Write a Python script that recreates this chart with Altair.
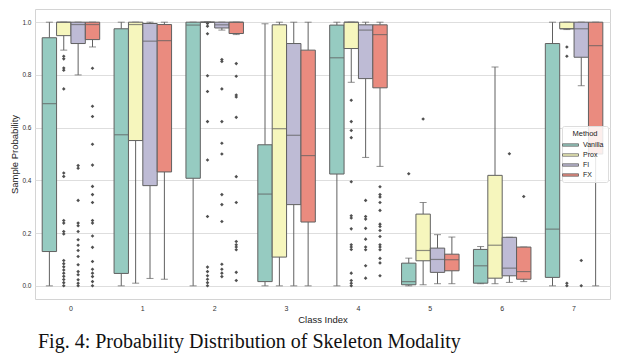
import altair as alt
import pandas as pd

CLASSES = ["0", "1", "2", "3", "4", "5", "6", "7"]
METHODS = ["Vanilla", "Prox", "FI", "FX"]
COLORS = ["#96cbc1", "#f6f6bd", "#bebbd5", "#ea8b7f"]

# box statistics per class: [whisker_low, q1, median, q3, whisker_high]
VANILLA = [
    [0.0, 0.130, 0.691, 0.941, 1.0],
    [0.0, 0.047, 0.573, 0.975, 1.0],
    [0.0, 0.408, 0.989, 1.0, 1.0],
    [0.0, 0.016, 0.348, 0.535, 0.994],
    [0.0, 0.424, 0.865, 0.989, 1.0],
    [0.0, 0.004, 0.016, 0.086, 0.105],
    [0.008, 0.010, 0.076, 0.138, 0.149],
    [0.0, 0.032, 0.215, 0.919, 1.0],
]
PROX = [
    [0.894, 0.949, 1.0, 1.0, 1.0],
    [0.010, 0.551, 0.991, 1.0, 1.0],
    [1.0, 1.0, 1.0, 1.0, 1.0],
    [0.0, 0.109, 0.596, 0.990, 1.0],
    [0.772, 0.900, 1.0, 1.0, 1.0],
    [0.004, 0.095, 0.134, 0.272, 0.316],
    [0.008, 0.029, 0.154, 0.419, 0.830],
    [0.972, 0.975, 0.975, 1.0, 1.0],
]
FI = [
    [0.800, 0.919, 0.991, 1.0, 1.0],
    [0.028, 0.380, 0.928, 0.995, 1.0],
    [0.970, 0.978, 0.990, 1.0, 1.0],
    [0.0, 0.308, 0.571, 0.919, 1.0],
    [0.487, 0.786, 0.970, 0.990, 1.0],
    [0.008, 0.051, 0.100, 0.143, 0.194],
    [0.013, 0.038, 0.067, 0.184, 0.184],
    [0.759, 0.867, 0.975, 1.0, 1.0],
]
FX = [
    [0.906, 0.934, 0.991, 1.0, 1.0],
    [0.025, 0.432, 0.930, 0.991, 1.0],
    [0.953, 0.957, 1.0, 1.0, 1.0],
    [0.0, 0.242, 0.494, 0.894, 1.0],
    [0.453, 0.751, 0.953, 0.990, 1.0],
    [0.008, 0.057, 0.099, 0.120, 0.185],
    [0.016, 0.025, 0.054, 0.147, 0.147],
    [0.0, 0.500, 0.911, 1.0, 1.0],
]

# outliers: {class: [values]}
VANILLA_OUT = {"5": [0.425]}
PROX_OUT = {
    "0": [0.871, 0.861, 0.826, 0.818, 0.747, 0.428, 0.415, 0.248, 0.238, 0.206, 0.197,
          0.096, 0.084, 0.072, 0.060, 0.048, 0.036, 0.024, 0.012, 0.0],
    "2": [0.995, 0.985, 0.956, 0.797, 0.737, 0.623, 0.477, 0.263, 0.071, 0.054, 0.038,
          0.025, 0.012, 0.0],
    "4": [0.704, 0.623, 0.589, 0.562, 0.395, 0.266, 0.257, 0.216, 0.156, 0.147, 0.138,
          0.048, 0.020, 0.010, 0.0],
    "5": [0.633],
    "7": [0.906, 0.871, 0.010, 0.0],
}
FI_OUT = {
    "0": [0.456, 0.446, 0.324, 0.238, 0.228, 0.206, 0.175, 0.154, 0.134, 0.111, 0.080,
          0.054, 0.042, 0.023, 0.010, 0.0],
    "2": [0.858, 0.851, 0.747, 0.623, 0.541, 0.500, 0.346, 0.308, 0.244, 0.082, 0.063,
          0.048, 0.035],
    "4": [0.324, 0.263, 0.253, 0.218, 0.177, 0.147, 0.137, 0.076, 0.029],
    "6": [0.501],
    "7": [0.096, 0.0],
}
FX_OUT = {
    "0": [0.825, 0.681, 0.642, 0.537, 0.458, 0.377, 0.346, 0.316, 0.248, 0.238, 0.189,
          0.146, 0.092, 0.063, 0.048, 0.035, 0.016, 0.0],
    "2": [0.843, 0.795, 0.724, 0.716, 0.639, 0.414, 0.316, 0.168, 0.156, 0.147, 0.137,
          0.051, 0.020],
    "4": [0.376, 0.346, 0.337, 0.316, 0.286, 0.234, 0.225, 0.210, 0.187, 0.156, 0.147,
          0.137, 0.104, 0.087, 0.038],
    "6": [0.339],
}

Y_TICKS = [0.0, 0.2, 0.4, 0.6, 0.8, 1.0]
CAPTION = "Fig. 4: Probability Distribution of Skeleton Modality"

stats_rows = []
for m, tbl in zip(METHODS, [VANILLA, PROX, FI, FX]):
    for c, s in zip(CLASSES, tbl):
        stats_rows.append(dict(cls=c, method=m, low=s[0], q1=s[1], med=s[2], q3=s[3], high=s[4]))
stats = pd.DataFrame(stats_rows)

out_rows = []
for m, d in zip(METHODS, [VANILLA_OUT, PROX_OUT, FI_OUT, FX_OUT]):
    for c, vals in d.items():
        for v in vals:
            out_rows.append(dict(cls=c, method=m, value=v))
outs = pd.DataFrame(out_rows)

GRAY = "#606060"
x_enc = alt.X("cls:N", scale=alt.Scale(domain=CLASSES, paddingInner=0, paddingOuter=0),
              axis=alt.Axis(title="Class Index", labelAngle=0))
xo_enc = alt.XOffset("method:N", scale=alt.Scale(domain=METHODS, paddingInner=0, paddingOuter=0.5))
y_scale = alt.Scale(domain=[-0.05, 1.05], nice=False, zero=False)

base = alt.Chart(stats).encode(x=x_enc, xOffset=xo_enc)

lower = base.mark_rule(color=GRAY, strokeWidth=1).encode(
    y=alt.Y("low:Q", scale=y_scale,
            axis=alt.Axis(title="Sample Probability", values=Y_TICKS, format=".1f")),
    y2="q1:Q")
upper = base.mark_rule(color=GRAY, strokeWidth=1).encode(y=alt.Y("q3:Q", scale=y_scale), y2="high:Q")
cap_lo = base.mark_tick(color=GRAY, size=7, thickness=1, orient="horizontal").encode(
    y=alt.Y("low:Q", scale=y_scale))
cap_hi = base.mark_tick(color=GRAY, size=7, thickness=1, orient="horizontal").encode(
    y=alt.Y("high:Q", scale=y_scale))
boxes = base.mark_bar(stroke=GRAY, strokeWidth=1).encode(
    y=alt.Y("q1:Q", scale=y_scale), y2="q3:Q",
    color=alt.Color("method:N", scale=alt.Scale(domain=METHODS, range=COLORS),
                    legend=alt.Legend(title="Method", orient="none", legendX=527, legendY=117,
                                      symbolType="M-2,-0.3L2,-0.3L2,0.3L-2,0.3Z",
                                      symbolSize=64, symbolStrokeColor=GRAY,
                                      symbolStrokeWidth=0.8, symbolOpacity=1,
                                      labelFontSize=7, titleFontSize=7.5,
                                      titleFontWeight="normal", labelOffset=8,
                                      rowPadding=2, padding=4, titleAnchor="middle",
                                      fillColor="rgba(255,255,255,0.85)",
                                      strokeColor="#dddddd", cornerRadius=2,
                                      labelColor="#222", titleColor="#222",
                                      titlePadding=3)))
median = base.mark_tick(color=GRAY, size=14, thickness=1.2, orient="horizontal").encode(
    y=alt.Y("med:Q", scale=y_scale))
fliers = alt.Chart(outs).mark_point(shape="diamond", filled=True, color="#505050",
                                    size=13, opacity=1).encode(
    x=x_enc, xOffset=xo_enc, y=alt.Y("value:Q", scale=y_scale))

chart = alt.layer(lower, upper, cap_lo, cap_hi, boxes, median, fliers).properties(
    width=575, height=290,
    autosize=alt.AutoSizeParams(type="none"),
    padding={"left": 27, "top": 1, "right": 22, "bottom": 60},
    title=alt.TitleParams(text=CAPTION, orient="bottom", anchor="start", frame="group",
                          dx=3, offset=8,
                          font="Liberation Serif", fontSize=20, fontWeight="normal",
                          color="#111"),
).configure_view(stroke="#d4d4d4", strokeWidth=1).configure_axis(
    labelFont="Liberation Sans", titleFont="Liberation Sans", labelColor="#333",
    titleColor="#222", domain=False, ticks=False, titleFontWeight="normal",
).configure_axisX(labelFontSize=7, titleFontSize=9.5, labelPadding=5, titlePadding=3,
                  grid=False).configure_axisY(
    labelFontSize=6.5, titleFontSize=9.5, labelPadding=4, titlePadding=2,
    grid=True, gridColor="#dedede", gridWidth=1).configure_legend(
    labelFont="Liberation Sans", titleFont="Liberation Sans")

chart.save("out.html", embed_options={"renderer": "svg", "actions": False})
